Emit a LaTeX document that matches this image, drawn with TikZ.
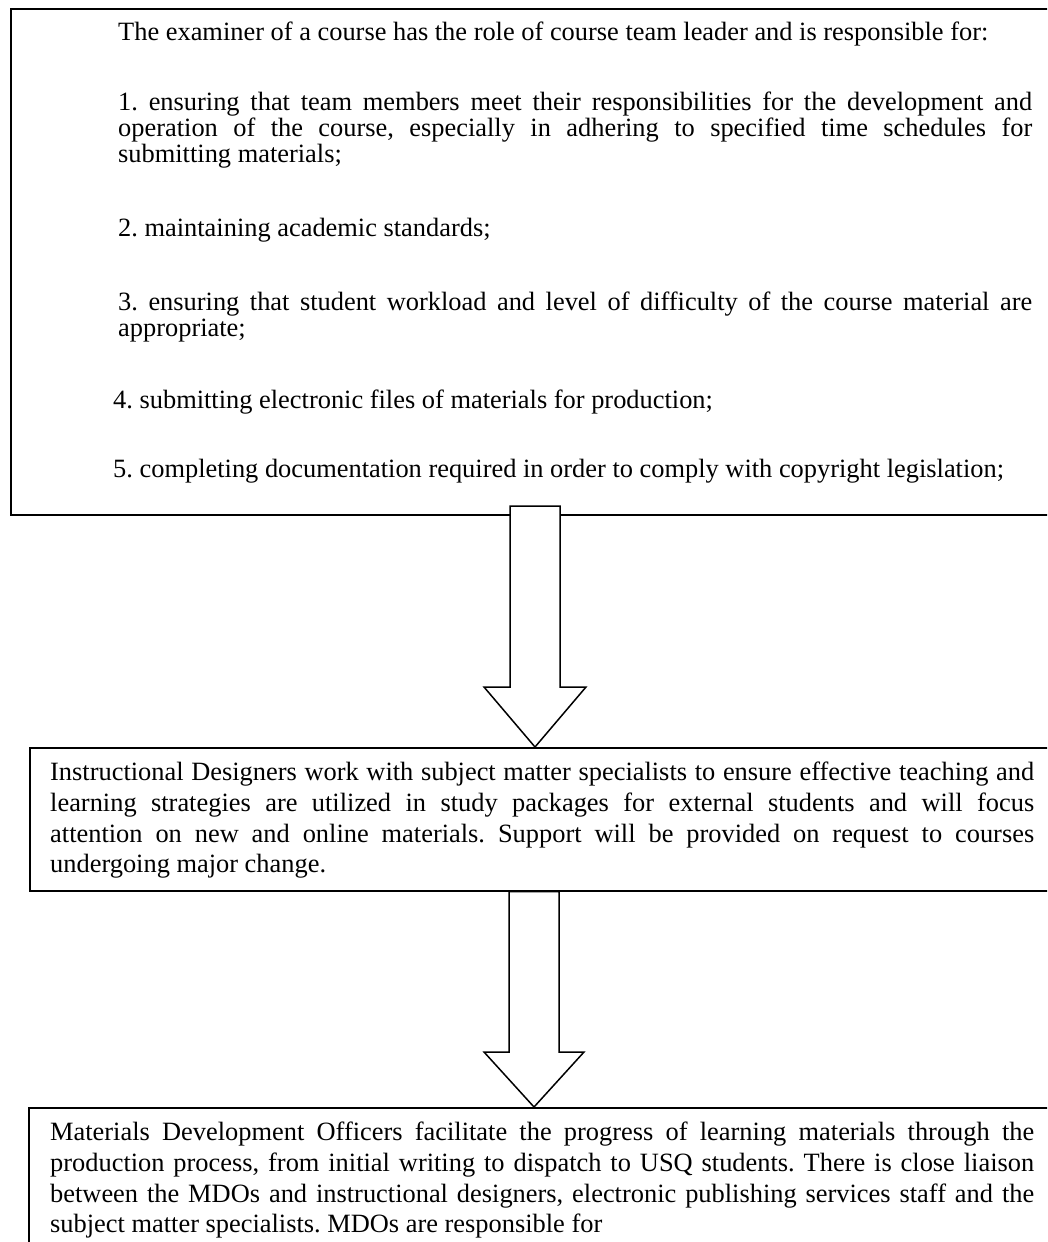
\documentclass[tikz,border=0pt]{standalone}
\usepackage{fontspec}
\setmainfont{Liberation Serif}
\frenchspacing
\begin{document}
\begin{tikzpicture}[x=1pt,y=-1pt,
  boxframe/.style={draw=black, line width=1.5pt, fill=none, inner sep=0pt, anchor=north west},
  txt/.style={anchor=base west, inner sep=0pt, font=\fontsize{26.4}{30}\selectfont\frenchspacing},
  blockarrow/.style={draw=black, line width=1.5pt, fill=white, line join=miter}]
\useasboundingbox (0,0) rectangle (1047,1242);
\clip (0,0) rectangle (1047,1242);
% boxes (right edges run off the page)
\node[boxframe, minimum width=1060pt, minimum height=506pt] (b1) at (10,8) {};
\node[boxframe, minimum width=1040pt, minimum height=143pt] (b2) at (29,747) {};
\node[boxframe, minimum width=1040pt, minimum height=200pt] (b3) at (28,1107) {};
% box 1 text
\node[txt] (t10) at (118,40) {The examiner of a course has the role of course team leader and is responsible for:};
\node[txt] (t11) at (118,110) {\makebox[914pt][s]{1. ensuring that team members meet their responsibilities for the development and}};
\node[txt] (t12) at (118,136) {\makebox[914pt][s]{operation of the course, especially in adhering to specified time schedules for}};
\node[txt] (t13) at (118,162) {submitting materials;};
\node[txt] (t14) at (118,236) {2. maintaining academic standards;};
\node[txt] (t15) at (118,310) {\makebox[914pt][s]{3. ensuring that student workload and level of difficulty of the course material are}};
\node[txt] (t16) at (118,336) {appropriate;};
\node[txt] (t17) at (113,408) {4. submitting electronic files of materials for production;};
\node[txt] (t18) at (113,477) {5. completing documentation required in order to comply with copyright legislation;};
% box 2 text
\node[txt] (t21) at (50,780) {\makebox[984pt][s]{Instructional Designers work with subject matter specialists to ensure effective teaching and}};
\node[txt] (t22) at (50,811) {\makebox[984pt][s]{learning strategies are utilized in study packages for external students and will focus}};
\node[txt] (t23) at (50,842) {\makebox[984pt][s]{attention on new and online materials. Support will be provided on request to courses}};
\node[txt] (t24) at (50,872) {undergoing major change.};
% box 3 text
\node[txt] (t31) at (50,1140) {\makebox[984pt][s]{Materials Development Officers facilitate the progress of learning materials through the}};
\node[txt] (t32) at (50,1171) {\makebox[984pt][s]{production process, from initial writing to dispatch to USQ students. There is close liaison}};
\node[txt] (t33) at (50,1202) {\makebox[984pt][s]{between the MDOs and instructional designers, electronic publishing services staff and the}};
\node[txt] (t34) at (50,1232) {subject matter specialists. MDOs are responsible for};
% block arrows
\coordinate (a1top) at (535,506);
\coordinate (a1tip) at (b2.north -| a1top);
\draw[blockarrow] ([xshift=-25pt]a1top) -- ([xshift=25pt]a1top) -- ([xshift=25pt]a1top |- 0,687) -- ([xshift=51pt]a1top |- 0,687) -- (a1tip) -- ([xshift=-51pt]a1top |- 0,687) -- ([xshift=-25pt]a1top |- 0,687) -- cycle;
\coordinate (a2top) at (b2.south -| 534,0);
\coordinate (a2tip) at (b3.north -| 534,0);
\draw[blockarrow] ([xshift=-25pt]a2top) -- ([xshift=25pt]a2top) -- ([xshift=25pt]a2top |- 0,1052) -- ([xshift=50pt]a2top |- 0,1052) -- (a2tip) -- ([xshift=-50pt]a2top |- 0,1052) -- ([xshift=-25pt]a2top |- 0,1052) -- cycle;
\end{tikzpicture}
\end{document}
